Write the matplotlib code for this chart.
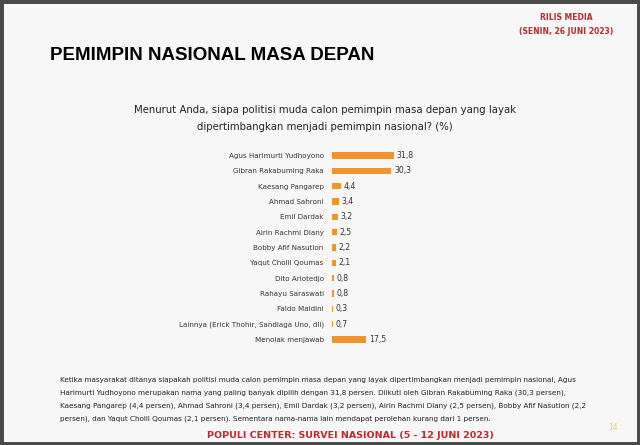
import matplotlib
matplotlib.use("Agg")
import matplotlib.pyplot as plt
from matplotlib.patches import Rectangle

names = ["Agus Harimurti Yudhoyono", "Gibran Rakabuming Raka", "Kaesang Pangarep",
         "Ahmad Sahroni", "Emil Dardak", "Airin Rachmi Diany", "Bobby Afif Nasution",
         "Yaqut Cholil Qoumas", "Dito Ariotedjo", "Rahayu Saraswati", "Faldo Maldini",
         "Lainnya (Erick Thohir, Sandiaga Uno, dll)", "Menolak menjawab"]
values = [31.8, 30.3, 4.4, 3.4, 3.2, 2.5, 2.2, 2.1, 0.8, 0.8, 0.3, 0.7, 17.5]

W, H = 640, 445
fig = plt.figure(figsize=(6.4, 4.45), dpi=100)
fig.patch.set_facecolor("#f7f7f7")
fig.patches.append(Rectangle((0, 0), 1, 1, transform=fig.transFigure, fill=False,
                             edgecolor="#4a4a4a", linewidth=5))

def ft(x, y, s, **kw):
    return fig.text(x / W, 1 - y / H, s, **kw)

ft(566, 18, "RILIS MEDIA", color="#c0282d", fontsize=5.5, fontweight="bold", ha="center", va="center")
ft(566, 32, "(SENIN, 26 JUNI 2023)", color="#c0282d", fontsize=5.5, fontweight="bold", ha="center", va="center")
ft(50, 56, "PEMIMPIN NASIONAL MASA DEPAN", color="black", fontsize=13.5, fontweight="bold",
   ha="left", va="center", family="Liberation Sans")
ft(325, 110, "Menurut Anda, siapa politisi muda calon pemimpin masa depan yang layak",
   fontsize=7.3, ha="center", va="center", color="#222222")
ft(325, 127, "dipertimbangkan menjadi pemimpin nasional? (%)",
   fontsize=7.3, ha="center", va="center", color="#222222")

para = ["Ketika masyarakat ditanya siapakah politisi muda calon pemimpin masa depan yang layak dipertimbangkan menjadi pemimpin nasional, Agus",
        "Harimurti Yudhoyono merupakan nama yang paling banyak dipilih dengan 31,8 persen. Diikuti oleh Gibran Rakabuming Raka (30,3 persen),",
        "Kaesang Pangarep (4,4 persen), Ahmad Sahroni (3,4 persen), Emil Dardak (3,2 persen), Airin Rachmi Diany (2,5 persen), Bobby Afif Nasution (2,2",
        "persen), dan Yaqut Cholil Qoumas (2,1 persen). Sementara nama-nama lain mendapat perolehan kurang dari 1 persen."]
for i, line in enumerate(para):
    ft(60, 380 + i * 13, line, fontsize=5.2, ha="left", va="center", color="#222222")
ft(350, 435, "POPULI CENTER: SURVEI NASIONAL (5 - 12 JUNI 2023)", color="#c0282d",
   fontsize=6.8, fontweight="bold", ha="center", va="center")
ft(613, 427, "14", color="#e0d060", fontsize=5.5, ha="center", va="center")

ax = fig.add_axes([332 / W, 1 - 347 / H, 100 / W, 199 / H])
ax.set_facecolor("none")
y = list(range(len(names)))
ax.barh(y, values, height=0.42, color="#f0952a")
for yi, v in zip(y, values):
    ax.text(v + 1.3, yi, f"{v:.1f}".replace(".", ","), fontsize=5.6, va="center", ha="left", color="#333333")
ax.set_yticks(y)
ax.set_yticklabels(names, fontsize=5.1, color="#333333")
ax.set_ylim(len(names) - 0.5, -0.5)
ax.set_xlim(0, 51)
ax.set_xticks([])
ax.tick_params(axis="y", length=0, pad=6)
for s in ax.spines.values():
    s.set_visible(False)

fig.savefig("out.png", dpi=100, facecolor=fig.get_facecolor())
